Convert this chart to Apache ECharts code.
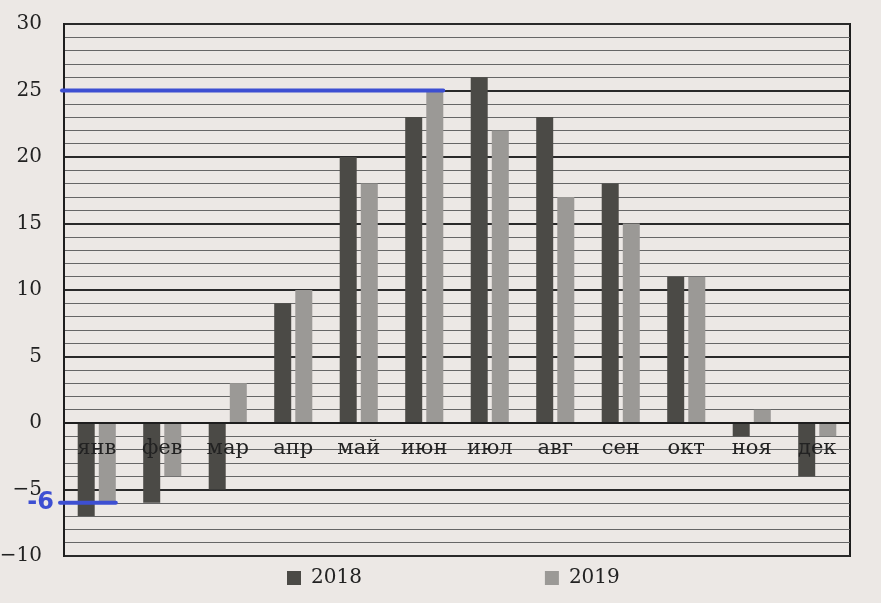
<!DOCTYPE html>
<html><head><meta charset="utf-8">
<script src="https://cdn.jsdelivr.net/npm/echarts@6/dist/echarts.min.js"></script>
<style>html,body{margin:0;padding:0;background:#ece8e5;}#c{width:881px;height:603px;}</style>
</head><body><div id="c"></div>
<script>
const months = ['янв','фев','мар','апр','май','июн','июл','авг','сен','окт','ноя','дек'];
const series2018 = [-7,-6,-5,9,20,23,26,23,18,11,-1,-4];
const series2019 = [-6,-4,3,10,18,25,22,17,15,11,1,-1];
const seriesNames = ['2018','2019'];
const yMin = -10, yMax = 30, yStep = 5;
// blue annotation lines: value, month whose 2019 bar they reach, label text
const annotValues = [25, -6];
const annotMonths = ['июн', 'янв'];
const annotLabels = ['', '-6'];

const serif = 'DejaVu Serif';
const BW = 17;
const gridTop = 24, gridBottom = 47, H = 603;
const gridH = H - gridTop - gridBottom;
const zeroOffset = -(0 - yMin) / (yMax - yMin) * gridH;

const chart = echarts.init(document.getElementById('c'));
const option = {
  backgroundColor: '#ece8e5',
  animation: false,
  grid: {left: 64, right: 31, top: gridTop, bottom: gridBottom, outerBoundsMode: 'none', containLabel: false,
    show: true, borderColor: '#1e1e1e', borderWidth: 2, backgroundColor: 'transparent'},
  legend: {
    data: seriesNames, left: 287, top: 568, padding: 0, itemWidth: 14, itemHeight: 14, itemGap: 183, icon: 'rect',
    textStyle: {fontFamily: serif, fontSize: 20, color: '#222', padding: [0,0,0,5]}
  },
  xAxis: {
    type: 'category', data: months, z: 10, offset: zeroOffset,
    axisLine: {show: true, onZero: false, lineStyle: {color: '#1e1e1e', width: 2}},
    axisTick: {show: false},
    axisLabel: {fontFamily: serif, fontSize: 21, color: '#222', margin: 15}
  },
  yAxis: {
    type: 'value', min: yMin, max: yMax, interval: yStep,
    axisLine: {show: true, lineStyle: {color: '#1e1e1e', width: 2}},
    axisTick: {show: false},
    axisLabel: {fontFamily: serif, fontSize: 20, color: '#222', margin: 22,
      formatter: v => String(v).replace('-', '\u2212')},
    splitLine: {lineStyle: {color: '#2a2a2a', width: 2}},
    minorTick: {show: false, splitNumber: 5},
    minorSplitLine: {show: true, lineStyle: {color: '#666', width: 1}}
  },
  series: [
    {name: seriesNames[0], type: 'bar', data: series2018, barWidth: BW, barGap: '24%', itemStyle: {color: '#4b4a46'}},
    {name: seriesNames[1], type: 'bar', data: series2019, barWidth: BW, itemStyle: {color: '#9b9996'}}
  ]
};
chart.setOption(option);

const gap = BW * 0.24;
const graphics = [];
annotValues.forEach((v, i) => {
  const c = chart.convertToPixel({xAxisIndex: 0}, annotMonths[i]);
  const y = chart.convertToPixel({yAxisIndex: 0}, v);
  const x0 = chart.convertToPixel({xAxisIndex: 0}, months[0]) - chart.getModel().getComponent('xAxis', 0).axis.getBandWidth() / 2;
  const x1 = c + gap / 2 + BW;
  const startX = annotLabels[i] ? x0 - 4 : x0 - 2;
  graphics.push({type: 'line', z: 100, shape: {x1: startX, y1: y, x2: x1, y2: y},
    style: {stroke: '#3d4fd2', lineWidth: 4, lineCap: 'round'}});
  if (annotLabels[i]) {
    graphics.push({type: 'text', z: 100, x: startX - 6, y: y,
      style: {text: annotLabels[i], fill: '#3d4fd2', font: 'bold 24px "DejaVu Sans"', align: 'right', verticalAlign: 'middle'}});
  }
});
chart.setOption({graphic: graphics});
</script></body></html>
